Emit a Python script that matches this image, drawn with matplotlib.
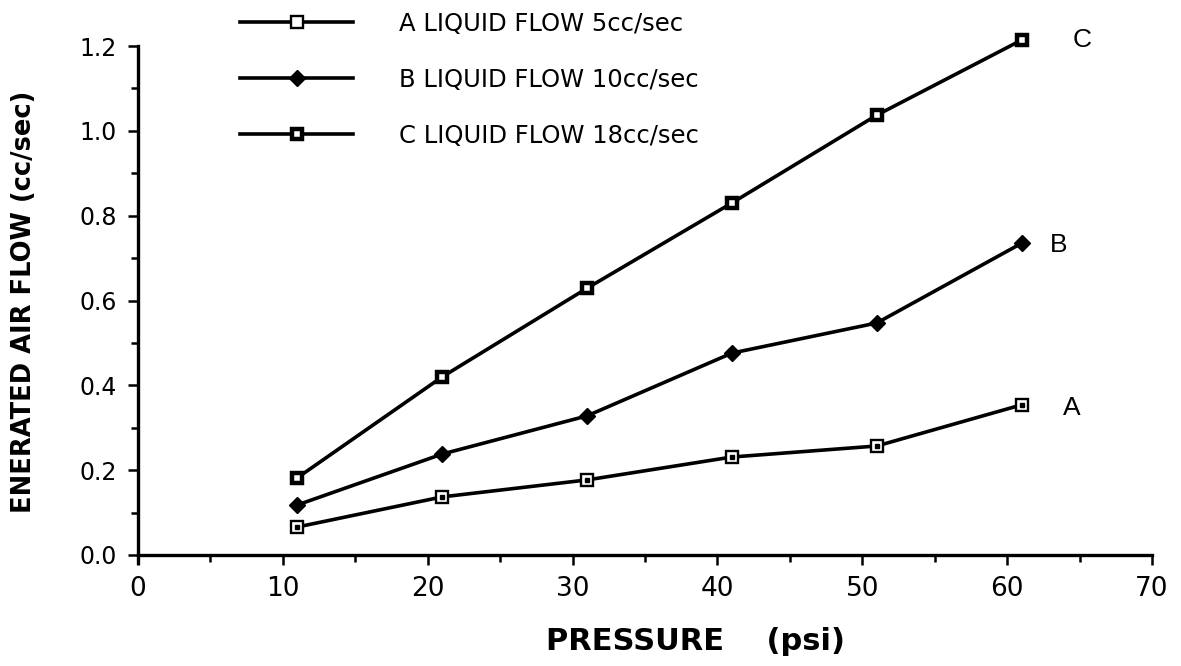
import matplotlib
matplotlib.use("Agg")
import matplotlib.pyplot as plt
from matplotlib.ticker import MultipleLocator, FixedLocator

# Data
pressure = [11, 21, 31, 41, 51, 61]
flow_A = [0.066, 0.137, 0.177, 0.231, 0.257, 0.354]
flow_B = [0.118, 0.238, 0.328, 0.476, 0.547, 0.735]
flow_C = [0.182, 0.420, 0.629, 0.830, 1.037, 1.214]
legend_labels = ["A LIQUID FLOW 5cc/sec", "B LIQUID FLOW 10cc/sec", "C LIQUID FLOW 18cc/sec"]
end_labels = ["A", "B", "C"]
x_ticks = [0, 10, 20, 30, 40, 50, 60, 70]
y_ticks = [0.0, 0.2, 0.4, 0.6, 0.8, 1.0, 1.2]

W, H = 1181, 666
fig = plt.figure(figsize=(W / 100, H / 100), dpi=100)
ax = fig.add_axes([138 / W, (H - 555) / H, (1152 - 138) / W, (555 - 46) / H])

lw = 2.6
lA, = ax.plot(pressure, flow_A, color="black", lw=lw, marker="s", ms=8.5, mfc="white",
              mec="black", mew=1.7, zorder=3, clip_on=False)
ax.plot(pressure, flow_A, ls="none", marker="s", ms=2.4, color="black", zorder=4, clip_on=False)
lB, = ax.plot(pressure, flow_B, color="black", lw=lw, marker="D", ms=8.5, mfc="black",
              mec="black", zorder=3, clip_on=False)
lC, = ax.plot(pressure, flow_C, color="black", lw=lw, marker="s", ms=7.5, mfc="white",
              mec="black", mew=3.2, zorder=3, clip_on=False)

# end labels
offsets = [(50, -3), (37, -2), (60, 0)]
for lab, ys, off in zip(end_labels, [flow_A, flow_B, flow_C], offsets):
    ax.annotate(lab, (pressure[-1], ys[-1]), xytext=off, textcoords="offset pixels",
                ha="center", va="center", fontsize=19, family="Liberation Sans",
                annotation_clip=False)

ax.set_xlim(0, 70)
ax.set_ylim(0, 1.2)
ax.xaxis.set_major_locator(FixedLocator(x_ticks))
ax.xaxis.set_minor_locator(MultipleLocator(5))
ax.yaxis.set_major_locator(FixedLocator(y_ticks))
ax.yaxis.set_minor_locator(MultipleLocator(0.1))
ax.set_yticklabels([f"{v:.1f}" for v in y_ticks], family="DejaVu Sans", fontsize=17)
ax.set_xticklabels([str(v) for v in x_ticks], family="DejaVu Sans", fontsize=19)

for s in ["top", "right"]:
    ax.spines[s].set_visible(False)
for s in ["left", "bottom"]:
    ax.spines[s].set_linewidth(2.4)
ax.spines["left"].set_bounds(-0.02, 1.2)

ax.tick_params(axis="both", which="major", direction="out", length=7, width=1.8, color="black")
ax.tick_params(axis="both", which="minor", direction="out", length=5, width=1.8, color="black")
ax.tick_params(axis="y", which="major", pad=8)
ax.tick_params(axis="x", which="major", pad=8)

ax.set_xlabel("PRESSURE    (psi)", fontsize=22, fontweight="bold", family="DejaVu Sans")
ax.xaxis.set_label_coords((696 - 138) / 1014, (555 - 642) / 509)
ax.xaxis.label.set_va("center")
ax.set_ylabel("ENERATED AIR FLOW (cc/sec)", fontsize=18.5, fontweight="bold", family="DejaVu Sans")
ax.yaxis.set_label_coords((24 - 138) / 1014, (555 - 302) / 509)
ax.yaxis.label.set_va("center")

leg = ax.legend([lA, lB, lC], legend_labels, loc="upper left",
                bbox_to_anchor=(240 / W, (H - 12) / H), bbox_transform=fig.transFigure,
                frameon=False, handlelength=4.66, handletextpad=1.9,
                labelspacing=1.31, numpoints=1, borderpad=0, borderaxespad=0,
                prop={"family": "DejaVu Sans", "size": 17.5})

fig.savefig("out.png", dpi=100, facecolor="white")
